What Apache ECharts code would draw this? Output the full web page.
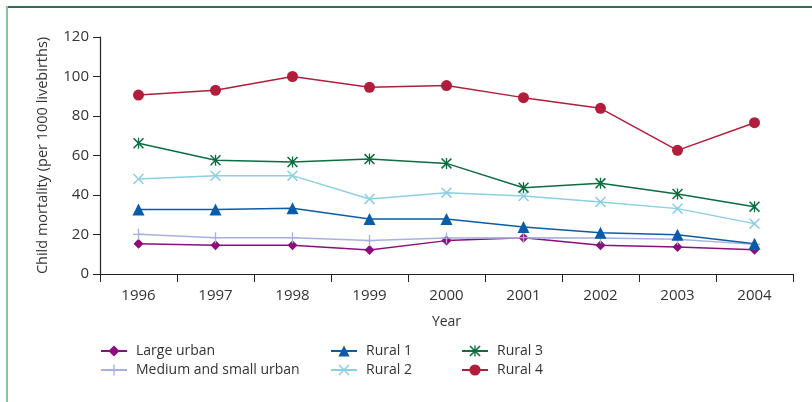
<!DOCTYPE html>
<html>
<head>
<meta charset="utf-8">
<script src="https://cdn.jsdelivr.net/npm/echarts@6/dist/echarts.min.js"></script>
<style>
html,body{margin:0;padding:0;background:#fff;}
#c{width:812px;height:402px;}
</style>
</head>
<body>
<div id="c"></div>
<script>
const years = ['1996','1997','1998','1999','2000','2001','2002','2003','2004'];
const largeUrban = [15.3, 14.5, 14.5, 12.2, 16.9, 18.4, 14.5, 13.7, 12.3];
const mediumSmallUrban = [20.1, 18.4, 18.4, 16.9, 18.2, 18.4, 18.2, 17.6, 15.0];
const rural1 = [32.6, 32.6, 33.3, 27.8, 27.8, 23.8, 20.9, 19.9, 15.3];
const rural2 = [48.1, 49.8, 49.8, 38.0, 41.2, 39.5, 36.5, 33.1, 25.5];
const rural3 = [66.2, 57.6, 56.7, 58.2, 56.0, 43.7, 45.9, 40.5, 34.1];
const rural4 = [90.6, 93.0, 100.0, 94.5, 95.4, 89.3, 83.9, 62.6, 76.6];
const yTicks = [0, 20, 40, 60, 80, 100, 120];

const FONT = 'Open Sans';
const PLUS = 'path://M4.4,0h1.2v10h-1.2zM0,4.4h10v1.2h-10z';
const XMARK = 'path://M0,1L1,0L10,9L9,10ZM9,0L10,1L1,10L0,9Z';
const STAR = 'path://M0,1L1,0L10,9L9,10ZM9,0L10,1L1,10L0,9ZM4.4,0h1.2v10h-1.2z';

function mk(name, data, color, symbol, size) {
  return {
    name: name, type: 'line', data: data,
    symbol: symbol, symbolSize: size,
    lineStyle: { color: color, width: 1.5 },
    itemStyle: { color: color },
    emphasis: { disabled: true },
    animation: false
  };
}

const chart = echarts.init(document.getElementById('c'));
const legendBase = {
  orient: 'vertical', itemWidth: 26, itemHeight: 14, itemGap: 5,
  textStyle: { fontFamily: FONT, fontSize: 14, color: '#333', padding: [0, 0, 0, 4] },
  selectedMode: false
};
chart.setOption({
  backgroundColor: '#fff',
  animation: false,
  graphic: [
    { type: 'line', shape: { x1: 6, y1: 7, x2: 812, y2: 7 }, style: { stroke: '#2f6f4f', lineWidth: 2 } },
    { type: 'line', shape: { x1: 7, y1: 6, x2: 7, y2: 402 }, style: { stroke: '#86c3a3', lineWidth: 2 } }
  ],
  grid: { left: 100, right: 19, top: 37, bottom: 128, containLabel: false },
  xAxis: {
    type: 'category', data: years, boundaryGap: true,
    name: 'Year', nameLocation: 'middle', nameGap: 41,
    nameTextStyle: { fontFamily: FONT, fontSize: 14, color: '#333' },
    axisLine: { lineStyle: { color: '#222', width: 1.2 } },
    axisTick: { show: true, length: 8, inside: false, alignWithLabel: false, lineStyle: { color: '#222' } },
    axisLabel: { fontFamily: FONT, fontSize: 15, color: '#333', margin: 14 },
    splitLine: { show: false }
  },
  yAxis: {
    type: 'value', min: 0, max: 120, interval: 20,
    name: 'Child mortality (per 1000 livebirths)', nameLocation: 'middle', nameGap: 50,
    nameTextStyle: { fontFamily: FONT, fontSize: 14.5, color: '#333' },
    axisLine: { show: true, lineStyle: { color: '#222', width: 1.2 } },
    axisTick: { show: true, length: 7, lineStyle: { color: '#222' } },
    axisLabel: { fontFamily: FONT, fontSize: 15, color: '#333', margin: 11,
      formatter: function (v) { return yTicks.indexOf(v) >= 0 ? String(v) : ''; } },
    splitLine: { show: false }
  },
  legend: [
    Object.assign({}, legendBase, { left: 95, top: 339, data: ['Large urban', 'Medium and small urban'] }),
    Object.assign({}, legendBase, { left: 325, top: 339, data: ['Rural 1', 'Rural 2'] }),
    Object.assign({}, legendBase, { left: 456, top: 339, data: ['Rural 3', 'Rural 4'] })
  ],
  series: [
    mk('Large urban', largeUrban, '#8a0f7c', 'diamond', 10),
    mk('Medium and small urban', mediumSmallUrban, '#a7b1de', PLUS, 11),
    mk('Rural 1', rural1, '#0b5ca6', 'triangle', 12),
    mk('Rural 2', rural2, '#8ccfe3', XMARK, 11),
    mk('Rural 3', rural3, '#0c6d3f', STAR, 11),
    mk('Rural 4', rural4, '#b31d3c', 'circle', 11)
  ]
});
</script>
</body>
</html>
